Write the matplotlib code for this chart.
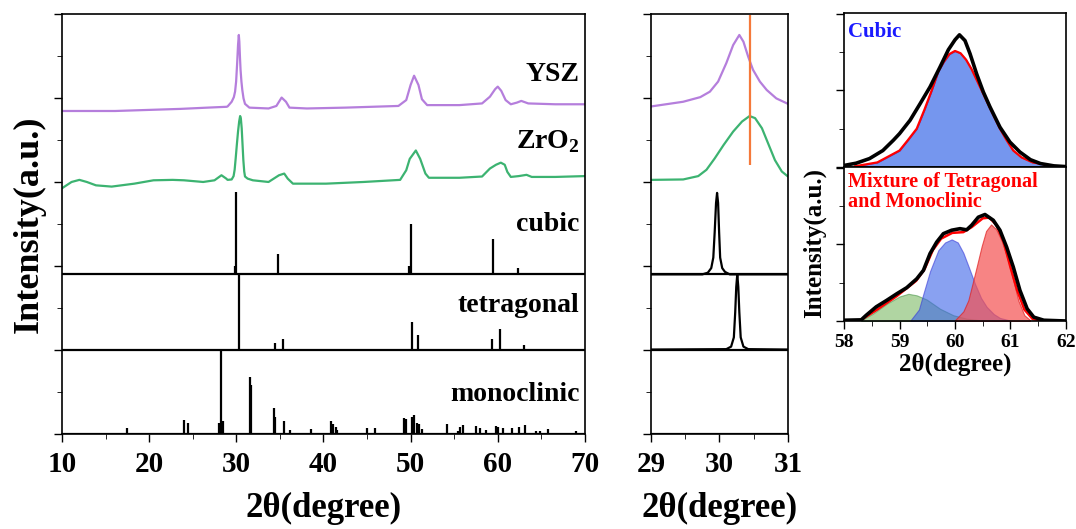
import matplotlib.pyplot as plt
from matplotlib.ticker import MultipleLocator

plt.rcParams['font.family'] = ['Liberation Serif', 'DejaVu Serif']
plt.rcParams['font.weight'] = 'bold'
plt.rcParams['mathtext.fontset'] = 'custom'
plt.rcParams['mathtext.rm'] = 'Liberation Serif:bold'

YSZ_COLOR = '#b57edc'
ZRO2_COLOR = '#3cb371'

# measured patterns (2theta, offset intensity)
ysz_x = [10.0, 16.1, 23.6, 26.7, 28.9, 29.01, 29.47, 29.72, 29.86, 29.98, 30.1, 30.2, 30.29,
         30.35, 30.42, 30.49, 30.59, 30.69, 30.83, 31.0, 31.5, 33.7, 34.6, 35.2, 35.7, 36.1,
         38.1, 42.5, 48.6, 49.5, 50.0, 50.4, 50.9, 51.3, 51.9, 55.6, 58.2, 59.1, 59.7, 60.0,
         60.4, 60.9, 61.5, 62.2, 62.7, 63.5, 66.6, 70.0]
ysz_y = [7.69, 7.69, 7.74, 7.77, 7.79, 7.8, 7.91, 8.02, 8.15, 8.39, 8.83, 9.26, 9.5,
         9.34, 8.98, 8.67, 8.39, 8.19, 7.99, 7.86, 7.77, 7.75, 7.81, 8.01, 7.91, 7.77,
         7.75, 7.77, 7.81, 7.95, 8.31, 8.53, 8.31, 7.97, 7.83, 7.83, 7.87, 8.03, 8.21, 8.27,
         8.17, 7.95, 7.85, 7.89, 7.93, 7.87, 7.85, 7.85]

zro2_x = [10.0, 11.1, 12.0, 12.85, 13.9, 15.7, 18.3, 20.5, 22.7, 24.0, 26.2, 27.5, 28.3,
          28.85, 29.0, 29.47, 29.69, 29.81, 29.93, 30.06, 30.2, 30.33, 30.44, 30.52, 30.62,
          30.71, 30.81, 30.91, 31.0, 31.3, 31.9, 33.7, 34.3, 34.9, 35.5, 35.9, 36.5, 40.3,
          44.6, 48.8, 49.5, 49.9, 50.6, 51.1, 51.7, 52.1, 55.6, 58.2, 59.1, 59.8, 60.35,
          60.8, 61.1, 61.5, 62.4, 63.3, 63.9, 66.6, 70.0]
zro2_y = [5.85, 6.0, 6.05, 6.0, 5.92, 5.89, 5.96, 6.04, 6.05, 6.04, 6.0, 6.04, 6.16,
          6.08, 6.05, 6.06, 6.14, 6.29, 6.56, 6.88, 7.2, 7.44, 7.57, 7.52, 7.28,
          6.92, 6.52, 6.25, 6.13, 6.08, 6.04, 6.0, 6.08, 6.16, 6.2, 6.08, 5.96, 5.96,
          6.0, 6.05, 6.28, 6.55, 6.75, 6.55, 6.2, 6.1, 6.1, 6.13, 6.32, 6.41, 6.46,
          6.41, 6.24, 6.12, 6.14, 6.17, 6.12, 6.12, 6.14]

# reference patterns: stick positions and heights above their baselines
cubic_base = 3.8
cubic_pos = [29.8, 29.96, 34.74, 49.8, 50.0, 59.43, 62.3]
cubic_h = [0.2, 1.95, 0.48, 0.2, 1.2, 0.85, 0.16]

tetra_base = 2.01
tetra_pos = [30.26, 34.47, 35.35, 50.2, 50.88, 59.34, 60.26, 62.98]
tetra_h = [1.8, 0.16, 0.24, 0.65, 0.34, 0.24, 0.48, 0.12]

mono_base = 0.0
mono_pos = [17.5, 24.04, 24.47, 28.0, 28.25, 28.5, 31.53, 31.7, 34.3, 34.45, 35.44, 36.2,
            38.6, 39.6, 40.9, 41.1, 41.4, 41.6, 45.0, 45.9, 49.25, 49.47, 50.13, 50.35,
            50.7, 50.92, 51.3, 54.2, 55.4, 55.7, 56.05, 57.45, 58.0, 58.6, 59.8, 60.0,
            60.57, 61.67, 62.4, 63.07, 64.4, 64.8, 65.8, 69.0]
mono_h = [0.15, 0.33, 0.26, 0.27, 1.97, 0.3, 1.36, 1.17, 0.61, 0.41, 0.3, 0.1,
          0.11, 0.03, 0.3, 0.24, 0.16, 0.1, 0.14, 0.14, 0.37, 0.35, 0.41, 0.45,
          0.26, 0.24, 0.11, 0.24, 0.08, 0.16, 0.22, 0.18, 0.14, 0.1, 0.19, 0.16,
          0.14, 0.14, 0.16, 0.22, 0.07, 0.06, 0.11, 0.07]

# zoomed (29-31) profiles of the reference main peaks
cubic_zx = [29.0, 29.75, 29.83, 29.88, 29.91, 29.93, 29.95, 29.965, 29.98, 29.995, 30.01,
            30.04, 30.08, 30.15, 31.0]
cubic_zy = [3.8, 3.8, 3.84, 3.95, 4.2, 4.8, 5.5, 5.74, 5.5, 4.8, 4.2,
            3.95, 3.86, 3.8, 3.8]
tetra_zx = [29.0, 30.1, 30.17, 30.21, 30.23, 30.245, 30.26, 30.275, 30.29, 30.31, 30.35,
            30.42, 31.0]
tetra_zy = [2.01, 2.02, 2.08, 2.3, 2.9, 3.5, 3.8, 3.5, 2.9, 2.3, 2.08,
            2.02, 2.01]

peak_line_x = 30.45
peak_line_y = (6.4, 9.97)

labels = ['YSZ', 'ZrO$_2$', 'cubic', 'tetragonal', 'monoclinic']
label_y = [8.55, 6.95, 4.98, 3.05, 0.93]

# peak fitting around 60 deg
cub_data_x = [58.0, 58.22, 58.46, 58.7, 58.89, 59.0, 59.19, 59.37, 59.55, 59.73, 59.88, 60.0,
              60.08, 60.18, 60.27, 60.39, 60.51, 60.63, 60.81, 60.99, 61.17, 61.36, 61.54,
              61.78, 62.0]
cub_data_y = [0.04, 0.1, 0.22, 0.43, 0.7, 0.87, 1.22, 1.65, 2.09, 2.61, 3.06, 3.32,
              3.45, 3.3, 2.96, 2.43, 1.96, 1.57, 1.04, 0.65, 0.39, 0.19, 0.09, 0.03, 0.01]
cub_fit_x = [58.2, 58.6, 59.0, 59.15, 59.31, 59.45, 59.58, 59.7, 59.8, 59.9, 60.0, 60.1,
             60.2, 60.3, 60.48, 60.65, 60.81, 60.93, 61.05, 61.2, 61.4, 61.8]
cub_fit_y = [0.02, 0.12, 0.43, 0.7, 1.0, 1.5, 2.0, 2.5, 2.75, 2.95, 3.03, 2.97,
             2.8, 2.55, 2.0, 1.48, 1.0, 0.7, 0.43, 0.25, 0.12, 0.02]

mix_data_x = [58.0, 58.31, 58.4, 58.58, 58.77, 58.95, 59.13, 59.31, 59.43, 59.55, 59.67,
              59.79, 59.94, 60.09, 60.21, 60.3, 60.42, 60.54, 60.69, 60.81, 60.93, 61.05,
              61.17, 61.3, 61.42, 61.6, 62.0]
mix_data_y = [0.02, 0.03, 0.15, 0.37, 0.54, 0.71, 0.87, 1.1, 1.32, 1.76, 2.06,
              2.28, 2.37, 2.41, 2.38, 2.5, 2.71, 2.78, 2.63, 2.37, 1.93, 1.41,
              0.8, 0.32, 0.1, 0.02, 0.0]
mix_fit_x = [58.3, 58.6, 58.95, 59.3, 59.45, 59.6, 59.75, 59.95, 60.15, 60.3, 60.5, 60.62,
             60.75, 60.88, 61.0, 61.12, 61.25, 61.4, 61.6]
mix_fit_y = [0.02, 0.3, 0.65, 1.05, 1.35, 1.85, 2.15, 2.3, 2.32, 2.45, 2.68, 2.7,
             2.5, 2.05, 1.4, 0.8, 0.3, 0.05, 0.0]
green_x = [58.31, 58.52, 58.77, 59.0, 59.16, 59.31, 59.49, 59.73, 59.97, 60.21, 60.45]
green_y = [0.02, 0.19, 0.45, 0.64, 0.71, 0.67, 0.56, 0.32, 0.15, 0.06, 0.02]
blue_x = [59.2, 59.35, 59.43, 59.55, 59.7, 59.82, 59.94, 60.05, 60.15, 60.25, 60.36, 60.47,
          60.57, 60.7, 60.81, 61.0]
blue_y = [0.02, 0.3, 0.71, 1.3, 1.85, 2.05, 2.13, 2.05, 1.78, 1.4, 0.97, 0.6,
          0.37, 0.18, 0.08, 0.01]
red_x = [60.0, 60.15, 60.24, 60.32, 60.39, 60.48, 60.56, 60.65, 60.74, 60.84, 60.92, 60.99,
         61.07, 61.14, 61.25, 61.35]
red_y = [0.02, 0.25, 0.54, 1.0, 1.41, 1.95, 2.35, 2.52, 2.4, 2.1, 1.75, 1.41,
         0.95, 0.54, 0.15, 0.03]


def style_axis(ax, lw=1.2):
    for sp in ax.spines.values():
        sp.set_linewidth(lw)
    ax.tick_params(direction='out', width=1.0)
    ax.tick_params(which='major', length=6)
    ax.tick_params(which='minor', length=3.5)


def draw_stack(ax, sticks=True):
    ax.plot(ysz_x, ysz_y, color=YSZ_COLOR, lw=1.6)
    ax.plot(zro2_x, zro2_y, color=ZRO2_COLOR, lw=1.6)
    for base, pos, h in [(cubic_base, cubic_pos, cubic_h),
                         (tetra_base, tetra_pos, tetra_h),
                         (mono_base, mono_pos, mono_h)]:
        ax.axhline(base, color='black', lw=1.6)
        if sticks:
            ax.vlines(pos, base, [base + v for v in h], color='black', lw=1.6)
    ax.set_ylim(0, 10)
    ax.yaxis.set_major_locator(MultipleLocator(2))
    ax.yaxis.set_minor_locator(MultipleLocator(1))
    ax.tick_params(axis='y', which='both', labelleft=False)


fig = plt.figure(figsize=(10.76, 5.29), dpi=100)

# full range panel
ax1 = fig.add_axes([0.0576, 0.1796, 0.486, 0.794])
draw_stack(ax1)
ax1.set_xlim(10, 70)
ax1.xaxis.set_major_locator(MultipleLocator(10))
ax1.xaxis.set_minor_locator(MultipleLocator(5))
for lab, yy in zip(labels, label_y):
    ax1.text(69.4, yy, lab, ha='right', va='center', fontsize=20, fontweight='bold')
ax1.set_xlabel('2θ(degree)', fontsize=25, fontweight='bold', labelpad=10)
ax1.set_ylabel('Intensity(a.u.)', fontsize=26, fontweight='bold', labelpad=6)
style_axis(ax1)
ax1.tick_params(axis='x', labelsize=21, pad=6)

# zoom on main peak
ax2 = fig.add_axes([0.605, 0.1796, 0.1273, 0.794])
draw_stack(ax2, sticks=False)
ax2.plot(cubic_zx, cubic_zy, color='black', lw=1.6)
ax2.plot(tetra_zx, tetra_zy, color='black', lw=1.6)
ax2.vlines(peak_line_x, peak_line_y[0], peak_line_y[1], color='#f5793a', lw=1.6)
ax2.set_xlim(29, 31)
ax2.xaxis.set_major_locator(MultipleLocator(1))
ax2.xaxis.set_minor_locator(MultipleLocator(0.5))
ax2.set_xlabel('2θ(degree)', fontsize=25, fontweight='bold', labelpad=10)
style_axis(ax2)
ax2.tick_params(axis='x', labelsize=21, pad=6)

# peak fitting panels
ax3 = fig.add_axes([0.7844, 0.6843, 0.2063, 0.2911])
ax4 = fig.add_axes([0.7844, 0.3932, 0.2063, 0.2911], sharex=ax3)

ax3.plot(cub_fit_x, cub_fit_y, color='red', lw=1.6)
ax3.fill_between(cub_fit_x, 0, cub_fit_y, facecolor='#7596ee', edgecolor='#3a3ad8', lw=0.8)
ax3.plot(cub_data_x, cub_data_y, color='black', lw=2.6)
ax3.text(0.02, 0.94, 'Cubic', color='#1a1aff', transform=ax3.transAxes,
         fontsize=15, fontweight='bold', va='top')

ax4.plot(mix_fit_x, mix_fit_y, color='red', lw=1.8)
ax4.fill_between(green_x, 0, green_y, facecolor='#6fb356', alpha=0.55, edgecolor='#3f8f3f', lw=0.8)
ax4.fill_between(blue_x, 0, blue_y, facecolor='#3a62e8', alpha=0.6, edgecolor='#3a3ad8', lw=0.8)
ax4.fill_between(red_x, 0, red_y, facecolor='#f55050', alpha=0.7, edgecolor='#e02020', lw=0.8)
ax4.plot(mix_data_x, mix_data_y, color='black', lw=2.6)
ax4.text(0.02, 0.97, 'Mixture of Tetragonal\nand Monoclinic', color='red',
         transform=ax4.transAxes, fontsize=14.5, fontweight='bold', va='top', linespacing=1.05)

for ax in (ax3, ax4):
    ax.set_ylim(0, 4.02)
    ax.yaxis.set_major_locator(MultipleLocator(2))
    ax.yaxis.set_minor_locator(MultipleLocator(1))
    ax.tick_params(axis='y', which='both', labelleft=False)
    style_axis(ax)
ax3.set_xlim(58, 62)
ax3.xaxis.set_major_locator(MultipleLocator(1))
ax3.xaxis.set_minor_locator(MultipleLocator(0.5))
ax3.tick_params(axis='x', which='both', labelbottom=False, bottom=False)
ax4.tick_params(axis='x', labelsize=14)
ax4.set_xlabel('2θ(degree)', fontsize=18, fontweight='bold', labelpad=1)
fig.text(0.757, 0.54, 'Intensity(a.u.)', rotation=90, ha='center', va='center',
         fontsize=18, fontweight='bold')

fig.savefig('out.png', dpi=100)
